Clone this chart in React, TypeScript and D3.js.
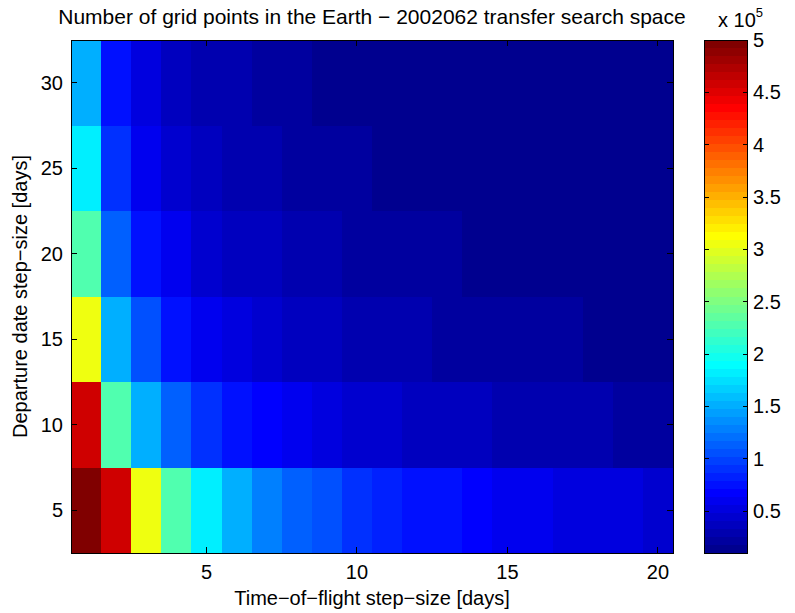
import React from "react";
import * as d3 from "d3";

// Time-of-flight step sizes (columns) and departure date step sizes (rows), in days
const tofSteps = [1, 2, 3, 4, 5, 6, 7, 8, 9, 10, 11, 12, 13, 14, 15, 16, 17, 18, 19, 20];
const depSteps = [5, 10, 15, 20, 25, 30];

// Number of grid points per departure step, one value per time-of-flight step
const pointsDep5 = [500000, 458700, 306200, 230000, 184200, 153700, 131900, 115600, 102900, 92700, 84400, 77500, 71600, 66600, 62200, 58400, 55000, 52000, 49400, 47000];
const pointsDep10 = [458700, 230000, 153700, 115600, 92700, 77500, 66600, 58400, 52000, 47000, 42800, 39300, 36400, 33900, 31700, 29800, 28100, 26600, 25200, 24100];
const pointsDep15 = [306200, 153700, 102900, 77500, 62200, 52000, 44800, 39300, 35100, 31700, 28900, 26600, 24700, 23000, 21500, 20300, 19100, 17500, 17100, 16400];
const pointsDep20 = [230000, 115600, 77500, 58400, 47000, 39300, 33900, 29800, 26600, 24100, 22000, 20300, 18800, 17300, 16400, 15500, 14700, 13900, 13200, 12600];
const pointsDep25 = [184200, 92700, 62200, 47000, 37800, 31700, 27300, 24100, 21500, 19500, 17400, 16400, 15300, 14300, 13400, 12600, 12000, 11400, 10900, 10500];
const pointsDep30 = [153700, 77500, 52000, 39300, 31700, 26600, 23000, 20300, 17500, 16400, 15100, 13900, 12900, 12100, 11400, 10800, 10400, 10200, 10100, 10000];

const xTicks = [5, 10, 15, 20];
const yTicks = [5, 10, 15, 20, 25, 30];
const colorTicks = [0.5, 1, 1.5, 2, 2.5, 3, 3.5, 4, 4.5, 5];
const colorTickLabels = ["0.5", "1", "1.5", "2", "2.5", "3", "3.5", "4", "4.5", "5"];
const colorExponent = 5;

const titleText = "Number of grid points in the Earth \u2212 2002062 transfer search space";
const xLabel = "Time\u2212of\u2212flight step\u2212size [days]";
const yLabel = "Departure date step\u2212size [days]";

const rows = [pointsDep5, pointsDep10, pointsDep15, pointsDep20, pointsDep25, pointsDep30];

// MATLAB-style jet colormap with m entries
function jet(m: number): string[] {
  const n = Math.ceil(m / 4);
  const u: number[] = [];
  for (let i = 1; i <= n; i++) u.push(i / n);
  for (let i = 1; i < n; i++) u.push(1);
  for (let i = n; i >= 1; i--) u.push(i / n);
  const g0 = Math.ceil(n / 2) - (m % 4 === 1 ? 1 : 0);
  const J = Array.from({ length: m }, () => [0, 0, 0]);
  u.forEach((val, i) => {
    const g = g0 + i + 1;
    const r = g + n;
    const b = g - n;
    if (r >= 1 && r <= m) J[r - 1][0] = val;
    if (g >= 1 && g <= m) J[g - 1][1] = val;
    if (b >= 1 && b <= m) J[b - 1][2] = val;
  });
  return J.map(([r, g, b]) => d3.rgb(Math.round(r * 255), Math.round(g * 255), Math.round(b * 255)).formatHex());
}

const W = 795;
const H = 613;
const plot = { left: 71, right: 673, top: 40, bottom: 553 };
const bar = { left: 704, right: 747 };
const FONT = "'Liberation Sans', Arial, Helvetica, sans-serif";
const FS = 20;

export default function App() {
  const cmap = jet(64);
  const all = rows.flat();
  const cmin = d3.min(all) as number;
  const cmax = d3.max(all) as number;
  const color = d3.scaleQuantize<string>().domain([cmin, cmax]).range(cmap);

  const x = d3.scaleLinear().domain([0.5, 20.5]).range([plot.left, plot.right]);
  const y = d3.scaleLinear().domain([2.5, 32.5]).range([plot.bottom, plot.top]);
  const yc = d3.scaleLinear().domain([cmin, cmax]).range([plot.bottom, plot.top]);
  const scale = Math.pow(10, colorExponent);
  const tickLen = 6;
  const barTick = 4.5;
  const cx = (plot.left + plot.right) / 2;

  const bands = cmap.map((c, i) => {
    const lo = cmin + (i * (cmax - cmin)) / cmap.length;
    const hi = cmin + ((i + 1) * (cmax - cmin)) / cmap.length;
    return { c, y0: yc(hi), y1: yc(lo) };
  });

  return (
    <svg
      width={W}
      height={H}
      style={{ position: "fixed", left: 0, top: 0, background: "#fff" }}
      fontFamily={FONT}
    >
      <rect x={0} y={0} width={W} height={H} fill="#fff" />
      <g shapeRendering="crispEdges">
        {rows.map((vals, ri) =>
          vals.map((v, ci) => (
            <rect
              key={`${ri}-${ci}`}
              x={x(tofSteps[ci] - 0.5)}
              y={y(depSteps[ri] + 2.5)}
              width={x(tofSteps[ci] + 0.5) - x(tofSteps[ci] - 0.5)}
              height={y(depSteps[ri] - 2.5) - y(depSteps[ri] + 2.5)}
              fill={color(v)}
            />
          ))
        )}
      </g>
      <g stroke="#000" strokeWidth={1} shapeRendering="crispEdges">
        <rect x={plot.left} y={plot.top} width={plot.right - plot.left} height={plot.bottom - plot.top} fill="none" />
        {xTicks.map((t) => (
          <g key={`xt${t}`}>
            <line x1={x(t)} x2={x(t)} y1={plot.bottom} y2={plot.bottom - tickLen} />
            <line x1={x(t)} x2={x(t)} y1={plot.top} y2={plot.top + tickLen} />
          </g>
        ))}
        {yTicks.map((t) => (
          <g key={`yt${t}`}>
            <line x1={plot.left} x2={plot.left + tickLen} y1={y(t)} y2={y(t)} />
            <line x1={plot.right} x2={plot.right - tickLen} y1={y(t)} y2={y(t)} />
          </g>
        ))}
      </g>
      <g fontSize={FS} fill="#000">
        {xTicks.map((t) => (
          <text key={`xl${t}`} x={x(t)} y={plot.bottom + 26} textAnchor="middle">
            {t}
          </text>
        ))}
        {yTicks.map((t) => (
          <text key={`yl${t}`} x={plot.left - 8} y={y(t) + 7} textAnchor="end">
            {t}
          </text>
        ))}
        <text x={cx} y={24} textAnchor="middle" fontSize={21}>{titleText}</text>
        <text x={cx} y={605} textAnchor="middle">{xLabel}</text>
        <text transform={`translate(27,${(plot.top + plot.bottom) / 2}) rotate(-90)`} textAnchor="middle">
          {yLabel}
        </text>
      </g>
      {/* colour bar */}
      <g shapeRendering="crispEdges">
        {bands.map((b, i) => (
          <rect key={`b${i}`} x={bar.left} y={b.y0} width={bar.right - bar.left} height={b.y1 - b.y0} fill={b.c} />
        ))}
      </g>
      <g stroke="#000" strokeWidth={1} shapeRendering="crispEdges">
        <rect x={bar.left} y={plot.top} width={bar.right - bar.left} height={plot.bottom - plot.top} fill="none" />
        {colorTicks.map((t) => (
          <g key={`ct${t}`}>
            <line x1={bar.left} x2={bar.left + barTick} y1={yc(t * scale)} y2={yc(t * scale)} />
            <line x1={bar.right} x2={bar.right - barTick} y1={yc(t * scale)} y2={yc(t * scale)} />
          </g>
        ))}
      </g>
      <g fontSize={FS} fill="#000">
        {colorTicks.map((t, i) => (
          <text key={`cl${t}`} x={bar.right + 6} y={yc(t * scale) + 7}>
            {colorTickLabels[i]}
          </text>
        ))}
        <text x={718} y={27}>
          x 10
          <tspan fontSize={13} dy={-10}>{colorExponent}</tspan>
        </text>
      </g>
    </svg>
  );
}
